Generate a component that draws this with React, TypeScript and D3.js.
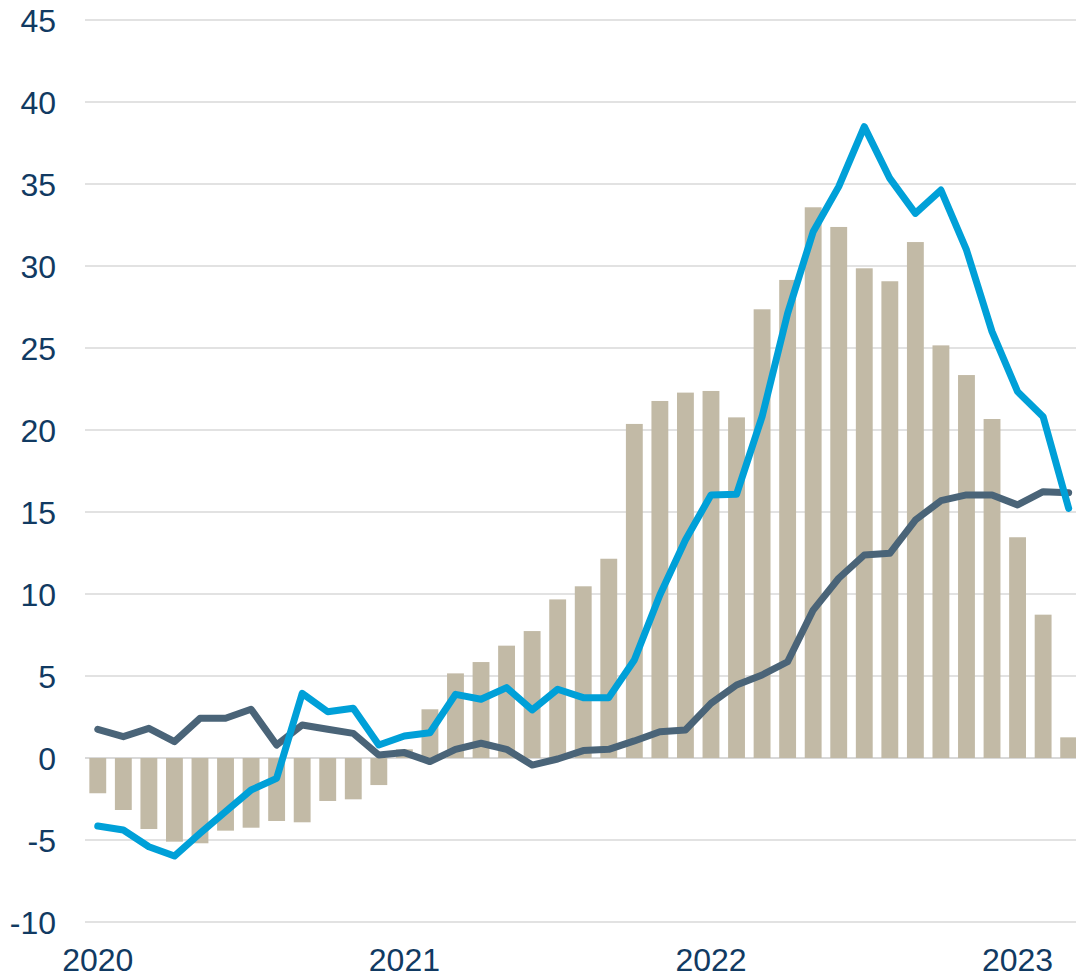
import React from "react";
import * as d3 from "d3";

const months: string[] = (() => {
  const out: string[] = [];
  for (let y = 2020; y <= 2023; y++) {
    for (let m = 1; m <= 12; m++) {
      if (y === 2023 && m > 3) break;
      out.push(`${y}-${String(m).padStart(2, "0")}`);
    }
  }
  return out;
})();

const barValues: number[] = [
  -2.15, -3.17, -4.33, -5.1, -5.2, -4.43, -4.25, -3.84, -3.92, -2.62, -2.52, -1.65,
  0.53, 2.97, 5.16, 5.85, 6.85, 7.74, 9.67, 10.47, 12.15, 20.37, 21.77, 22.28,
  22.38, 20.77, 27.36, 29.15, 33.58, 32.38, 29.86, 29.07, 31.46, 25.16, 23.35, 20.67,
  13.46, 8.74, 1.26,
];

const blueValues: number[] = [
  -4.15, -4.39, -5.41, -5.98, -4.6, -3.27, -1.95, -1.24, 3.94, 2.82, 3.03, 0.79,
  1.34, 1.54, 3.88, 3.58, 4.29, 2.93, 4.19, 3.68, 3.68, 5.98, 9.94, 13.29,
  16.04, 16.08, 20.81, 27.11, 32.09, 34.84, 38.5, 35.34, 33.21, 34.63, 30.98, 26.0,
  22.34, 20.81, 15.22,
];

const darkValues: number[] = [
  1.75, 1.3, 1.81, 1.0, 2.42, 2.42, 2.97, 0.79, 2.01, 1.75, 1.5, 0.18,
  0.33, -0.22, 0.53, 0.9, 0.53, -0.43, -0.06, 0.45, 0.53, 1.04, 1.6, 1.71,
  3.33, 4.45, 5.06, 5.87, 9.02, 10.96, 12.38, 12.48, 14.51, 15.69, 16.04, 16.04,
  15.43, 16.24, 16.18,
];

const yTicks: number[] = [-10, -5, 0, 5, 10, 15, 20, 25, 30, 35, 40, 45];
const xTickMonths: string[] = ["2020-01", "2021-01", "2022-01", "2023-01"];
const xTickLabels: string[] = ["2020", "2021", "2022", "2023"];

const W = 1076;
const H = 977;
const FONT = "'Liberation Sans', Arial, sans-serif";
const TEXT = "#113a62";

export default function App() {
  const x = d3
    .scaleBand<string>()
    .domain(months)
    .range([85, 85 + 25.55 * months.length])
    .paddingInner(0.34)
    .paddingOuter(0.17);
  const y = d3.scaleLinear().domain([-10, 45]).range([922, 20]);
  const cx = (m: string) => (x(m) as number) + x.bandwidth() / 2;

  const line = d3
    .line<number>()
    .x((_, i) => cx(months[i]))
    .y((d) => y(d));

  return (
    <div style={{ position: "absolute", left: 0, top: 0, width: W, height: H, background: "#fff" }}>
      <svg width={W} height={H} style={{ display: "block" }}>
        {yTicks.map((t) => (
          <g key={t}>
            <line
              x1={85}
              x2={W}
              y1={y(t)}
              y2={y(t)}
              stroke="#d9d9d9"
              strokeWidth={t === 0 ? 2 : 1.5}
            />
            <text
              x={56}
              y={y(t)}
              dy="0.36em"
              textAnchor="end"
              fontFamily={FONT}
              fontSize={32}
              fill={TEXT}
            >
              {t}
            </text>
          </g>
        ))}
        {barValues.map((v, i) => (
          <rect
            key={months[i]}
            x={x(months[i])}
            width={x.bandwidth()}
            y={Math.min(y(v), y(0))}
            height={Math.abs(y(v) - y(0))}
            fill="#c2baa6"
          />
        ))}
        <path
          d={line(darkValues) || ""}
          fill="none"
          stroke="#4a6478"
          strokeWidth={7}
          strokeLinejoin="round"
          strokeLinecap="round"
        />
        <path
          d={line(blueValues) || ""}
          fill="none"
          stroke="#00a0d8"
          strokeWidth={7}
          strokeLinejoin="round"
          strokeLinecap="round"
        />
        {xTickMonths.map((m, i) => (
          <text
            key={m}
            x={cx(m)}
            y={971}
            textAnchor="middle"
            fontFamily={FONT}
            fontSize={32}
            fill={TEXT}
          >
            {xTickLabels[i]}
          </text>
        ))}
      </svg>
    </div>
  );
}
